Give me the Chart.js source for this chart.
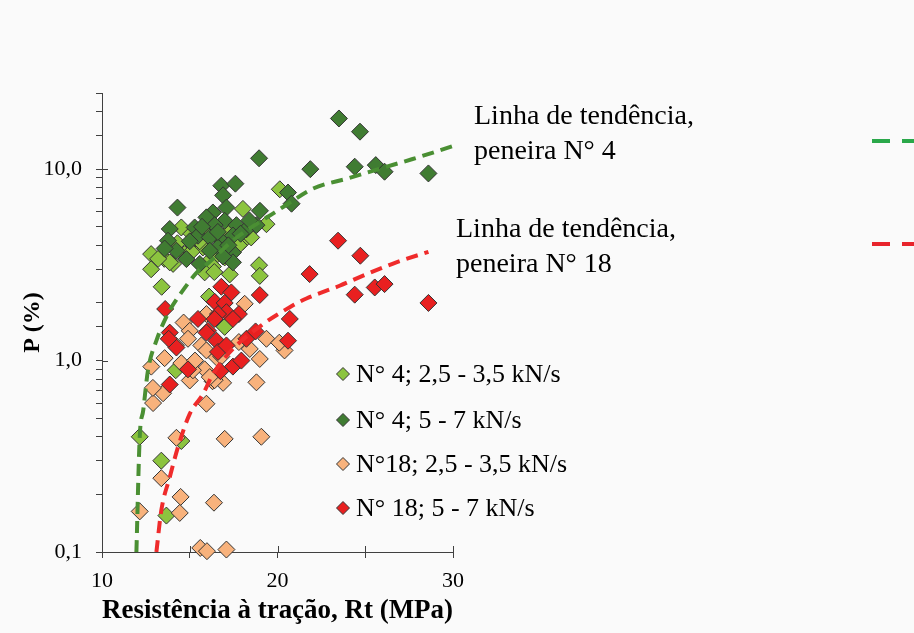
<!DOCTYPE html>
<html>
<head>
<meta charset="utf-8">
<script src="https://cdn.jsdelivr.net/npm/chart.js@4.4.1/dist/chart.umd.min.js"></script>
<style>
  html, body { margin: 0; padding: 0; background: #fafafa; }
  #wrap { width: 914px; height: 633px; }
</style>
</head>
<body>
<div id="wrap"><canvas id="grafico"></canvas></div>
<script>
// pares [Rt (MPa), P (%)]
var n4Baixa = [
    [12.15, 0.40], [13.38, 0.30], [13.67, 0.155], [14.52, 0.38], [14.2, 0.89],
    [13.4, 2.43], [12.8, 3.6], [12.8, 3.0], [13.55, 3.4], [14.05, 3.2],
    [13.86, 3.26], [14.52, 4.96], [15.1, 4.6], [15.18, 4.06], [15.75, 4.0],
    [15.95, 4.77], [15.75, 3.9], [15.95, 3.2], [16.32, 3.1], [16.99, 3.46],
    [18.95, 3.15], [18.99, 2.77], [17.28, 2.82], [15.85, 2.89], [16.4, 2.9],
    [16.1, 2.16], [16.99, 1.5], [18.03, 6.2], [18.03, 4.2], [18.5, 4.4],
    [19.37, 5.16], [20.13, 7.85], [14.7, 3.6], [15.1, 3.7], [15.57, 4.2],
    [16.6, 3.6], [17.8, 4.0], [13.2, 3.4], [14.3, 4.1], [17.2, 4.7]
];
var n4Alta = [
    [23.5, 18.4], [24.7, 15.7], [21.87, 10.0], [24.4, 10.3], [25.6, 10.5],
    [26.1, 9.7], [28.6, 9.5], [18.95, 11.4], [20.6, 7.55], [20.8, 6.6],
    [16.8, 8.2], [17.6, 8.4], [16.9, 7.3], [14.3, 6.3], [19.0, 6.06],
    [16.32, 5.94], [17.09, 6.3], [15.95, 5.6], [16.99, 5.37], [16.42, 5.1],
    [17.66, 5.1], [18.23, 4.85], [18.8, 5.1], [16.7, 4.32], [17.46, 4.5],
    [16.6, 3.9], [17.46, 3.67], [17.46, 3.26], [13.86, 4.87], [13.76, 4.23],
    [14.24, 3.75], [14.81, 3.39], [15.28, 4.96], [15.47, 4.49], [16.14, 4.4],
    [16.14, 3.75], [15.57, 3.2], [13.57, 3.85], [15.0, 4.2], [17.9, 4.6],
    [18.4, 5.4], [15.7, 5.0], [16.6, 4.7], [17.2, 4.0], [16.9, 3.5]
];
var n18Baixa = [
    [12.91, 0.60], [13.48, 0.675], [15.0, 0.787], [15.95, 0.595], [14.24, 0.395],
    [16.99, 0.39], [19.08, 0.40], [13.38, 0.243], [14.48, 0.194], [16.38, 0.181],
    [12.15, 0.163], [14.43, 0.16], [15.6, 0.105], [15.98, 0.101], [17.09, 0.103],
    [18.8, 0.77], [16.9, 0.765], [16.3, 0.78], [12.81, 0.93], [14.65, 1.58],
    [15.0, 1.43], [13.57, 1.03], [15.85, 0.90], [15.66, 1.2], [16.42, 0.79],
    [18.13, 1.98], [18.99, 1.02], [19.37, 1.3], [20.4, 1.13], [20.1, 1.24],
    [18.42, 1.15], [14.52, 0.97], [15.18, 0.89], [16.14, 0.82], [12.9, 0.72],
    [15.95, 1.75], [16.52, 1.04], [15.95, 1.13], [14.9, 1.3], [16.8, 1.05],
    [17.8, 1.25], [14.2, 1.2], [15.3, 1.0]
];
var n18Alta = [
    [23.45, 4.23], [24.72, 3.53], [21.83, 2.83], [24.4, 2.21], [25.54, 2.41],
    [26.1, 2.51], [28.6, 2.0], [20.7, 1.65], [20.6, 1.27], [18.99, 2.2],
    [16.8, 2.43], [17.37, 2.27], [16.42, 2.03], [16.99, 2.0], [17.09, 1.79],
    [16.61, 1.75], [17.8, 1.75], [17.46, 1.65], [15.47, 1.65], [13.6, 1.86],
    [13.86, 1.40], [14.24, 1.17], [16.04, 1.43], [16.52, 1.27], [16.61, 1.11],
    [17.09, 1.2], [18.23, 1.3], [18.75, 1.42], [14.9, 0.90], [13.86, 0.75],
    [16.75, 0.88], [17.46, 0.93], [17.94, 1.0], [16.42, 1.65], [15.95, 1.40],
    [13.8, 1.3]
];
// linhas de tendência
var tendN4 = [
    [11.96, 0.1], [12.15, 0.4], [12.35, 0.55], [12.62, 0.89], [13.1, 1.27],
    [13.76, 1.76], [14.6, 2.32], [15.5, 2.95], [16.0, 3.2], [17.4, 4.2],
    [18.7, 5.1], [19.85, 5.95], [20.5, 6.5], [22.0, 7.9], [24.1, 9.0],
    [25.9, 10.1], [27.7, 11.3], [30.0, 13.2]
];
var tendN18 = [
    [13.1, 0.1], [13.38, 0.165], [13.86, 0.246], [14.33, 0.353], [15.0, 0.527],
    [15.76, 0.67], [16.32, 0.85], [17.46, 1.15], [19.17, 1.55], [20.7, 1.9],
    [21.65, 2.11], [23.54, 2.46], [25.16, 2.85], [26.77, 3.26], [28.6, 3.7]
];

var seriesNomes = ["N° 4; 2,5 - 3,5 kN/s", "N° 4; 5 - 7 kN/s", "N°18; 2,5 - 3,5 kN/s", "N° 18; 5 - 7 kN/s"];
var seriesCores = ["#8cc43f", "#407c32", "#f8b27c", "#e82020"];
var tendTextos = [["Linha de tendência,", "peneira N° 4"], ["Linha de tendência,", "peneira N° 18"]];
var yTickValores = [0.1, 1, 10];
var yTickTextos = ["0,1", "1,0", "10,0"];
var xTickValores = [10, 20, 30];

var FONTE = "'Liberation Serif', 'Times New Roman', serif";

function pts(arr) {
    return arr.map(function (p) { return { x: p[0], y: p[1] }; });
}

function serie(i, arr) {
    return {
        label: seriesNomes[i],
        data: pts(arr),
        pointStyle: "rectRot",
        pointRadius: 8.5,
        pointHoverRadius: 8.5,
        backgroundColor: seriesCores[i],
        borderColor: "#333333",
        borderWidth: 1,
        showLine: false,
        clip: false
    };
}

function diamante(ctx, x, y, r, cor) {
    ctx.beginPath();
    ctx.moveTo(x - r, y);
    ctx.lineTo(x, y - r);
    ctx.lineTo(x + r, y);
    ctx.lineTo(x, y + r);
    ctx.closePath();
    ctx.fillStyle = cor;
    ctx.fill();
    ctx.lineWidth = 1;
    ctx.strokeStyle = "#333333";
    ctx.stroke();
}

var extras = {
    id: "extras",
    afterDraw: function (chart) {
        var ctx = chart.ctx;
        var ys = chart.scales.y;
        var xs = chart.scales.x;
        ctx.save();

        // marcas principais atravessando os eixos
        ctx.strokeStyle = "#404040";
        ctx.lineWidth = 1;
        ctx.beginPath();
        yTickValores.forEach(function (v) {
            var py = Math.round(ys.getPixelForValue(v)) + 0.5;
            ctx.moveTo(xs.left, py);
            ctx.lineTo(xs.left + 6, py);
        });
        [10, 15, 20, 25, 30].forEach(function (v) {
            var px = Math.round(xs.getPixelForValue(v)) + 0.5;
            ctx.moveTo(px, ys.bottom);
            ctx.lineTo(px, ys.bottom - 6);
        });
        ctx.stroke();

        // legenda dentro da área
        var linhas = [374, 420, 464, 508];
        ctx.font = "26px " + FONTE;
        ctx.textBaseline = "middle";
        ctx.textAlign = "left";
        for (var i = 0; i < seriesNomes.length; i++) {
            diamante(ctx, 343, linhas[i], 6.5, seriesCores[i]);
            ctx.fillStyle = "#000";
            ctx.fillText(seriesNomes[i], 356, linhas[i] + 1);
        }

        // textos das linhas de tendência
        ctx.font = "28px " + FONTE;
        ctx.textBaseline = "alphabetic";
        ctx.fillText(tendTextos[0][0], 474, 124);
        ctx.fillText(tendTextos[0][1], 474, 159);
        ctx.fillText(tendTextos[1][0], 456, 237);
        ctx.fillText(tendTextos[1][1], 456, 272);

        // pedaços da legenda cortada à direita
        ctx.lineWidth = 4;
        ctx.setLineDash([18, 12]);
        ctx.strokeStyle = "#2aa84a";
        ctx.beginPath();
        ctx.moveTo(872, 141);
        ctx.lineTo(920, 141);
        ctx.stroke();
        ctx.strokeStyle = "#e8242c";
        ctx.beginPath();
        ctx.moveTo(872, 244);
        ctx.lineTo(920, 244);
        ctx.stroke();

        ctx.restore();
    }
};

new Chart(document.getElementById("grafico"), {
    type: "scatter",
    data: {
        datasets: [
            {
                label: "tendência N° 4",
                data: pts(tendN4),
                showLine: true,
                borderColor: "#4a8f33",
                borderWidth: 4,
                borderDash: [12, 7],
                pointRadius: 0,
                cubicInterpolationMode: "monotone",
                fill: false
            },
            {
                label: "tendência N° 18",
                data: pts(tendN18),
                showLine: true,
                borderColor: "#ef2b2b",
                borderWidth: 4,
                borderDash: [12, 7],
                pointRadius: 0,
                cubicInterpolationMode: "monotone",
                fill: false
            },
            serie(3, n18Alta),
            serie(2, n18Baixa),
            serie(1, n4Alta),
            serie(0, n4Baixa)
        ]
    },
    options: {
        responsive: true,
        maintainAspectRatio: false,
        animation: false,
        layout: { padding: { left: 0, right: 461, top: 93, bottom: 0 } },
        plugins: {
            legend: { display: false },
            tooltip: { enabled: false }
        },
        scales: {
            x: {
                type: "linear",
                min: 10,
                max: 30,
                afterFit: function (s) { s.height = 81; },
                border: { color: "#404040", width: 1 },
                grid: { drawOnChartArea: false, drawTicks: true, tickLength: 6, color: "#404040" },
                ticks: {
                    stepSize: 5,
                    padding: 10,
                    color: "#000",
                    font: { family: FONTE, size: 22 },
                    callback: function (v) {
                        return xTickValores.indexOf(v) >= 0 ? String(v) : "";
                    }
                },
                title: {
                    display: true,
                    text: "Resistência à tração, Rt (MPa)",
                    color: "#000",
                    font: { family: FONTE, size: 27, weight: "bold" },
                    padding: { top: 0, bottom: 6 }
                }
            },
            y: {
                type: "logarithmic",
                min: 0.1,
                max: 25,
                afterFit: function (s) { s.width = 102; },
                border: { color: "#404040", width: 1 },
                grid: { drawOnChartArea: false, drawTicks: true, tickLength: 6, color: "#404040" },
                ticks: {
                    autoSkip: false,
                    padding: 14,
                    color: "#000",
                    font: { family: FONTE, size: 22 },
                    callback: function (v) {
                        for (var i = 0; i < yTickValores.length; i++) {
                            if (Math.abs(v - yTickValores[i]) < 1e-6) return yTickTextos[i];
                        }
                        return "";
                    }
                },
                title: {
                    display: true,
                    text: "P (%)",
                    color: "#000",
                    font: { family: FONTE, size: 24, weight: "bold" },
                    padding: { top: 18, bottom: 0 }
                }
            }
        }
    },
    plugins: [extras]
});
</script>
</body>
</html>
